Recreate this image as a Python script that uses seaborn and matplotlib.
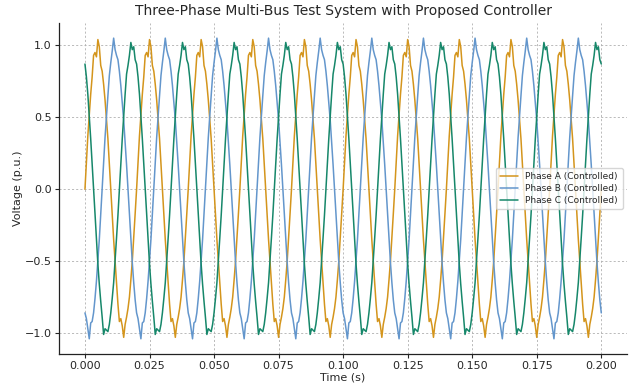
import numpy as np
import pandas as pd
import matplotlib
matplotlib.use("Agg")
import matplotlib.pyplot as plt
import seaborn as sns

period_s = 0.02
n_cycles = 10
phase_a_cycle = [0.00, 0.19, 0.37, 0.52, 0.66, 0.78, 0.93, 0.95, 0.92, 1.04, 0.99, 0.86,
                 0.82, 0.73, 0.62, 0.49, 0.35, 0.18, 0.00, -0.18, -0.35, -0.50, -0.65, -0.80,
                 -0.92, -0.90, -0.95, -1.03, -0.94, -0.89, -0.83, -0.75, -0.63, -0.50, -0.34, -0.17]
phase_b_cycle = [-0.86, -0.90, -0.97, -1.04, -0.93, -0.92, -0.86, -0.76, -0.64, -0.50, -0.35, -0.17,
                 0.00, 0.18, 0.36, 0.51, 0.65, 0.79, 0.88, 0.96, 1.05, 0.97, 0.93, 0.90,
                 0.82, 0.72, 0.60, 0.48, 0.33, 0.17, 0.00, -0.18, -0.35, -0.51, -0.65, -0.77]
phase_c_cycle = [0.87, 0.78, 0.66, 0.51, 0.35, 0.18, 0.00, -0.17, -0.35, -0.52, -0.66, -0.78,
                 -0.89, -1.01, -0.97, -0.98, -0.99, -0.94, -0.86, -0.76, -0.65, -0.50, -0.34, -0.18,
                 0.00, 0.18, 0.35, 0.51, 0.66, 0.80, 0.86, 0.93, 1.02, 0.97, 0.99, 0.90]
series_labels = ["Phase A (Controlled)", "Phase B (Controlled)", "Phase C (Controlled)"]
series_colors = ["#D4951C", "#6396CC", "#16876A"]
x_ticks = [0.000, 0.025, 0.050, 0.075, 0.100, 0.125, 0.150, 0.175, 0.200]
y_ticks = [-1.0, -0.5, 0.0, 0.5, 1.0]

# ---- build long-form table (repeat the read cycle over the record) ----
n_per = len(phase_a_cycle)
n_pts = n_per * n_cycles + 1
t = np.arange(n_pts) * period_s / n_per
frames = []
for lab, cyc in zip(series_labels, [phase_a_cycle, phase_b_cycle, phase_c_cycle]):
    v = np.array(cyc * n_cycles + [cyc[0]])
    frames.append(pd.DataFrame({"Time (s)": t, "Voltage (p.u.)": v, "Phase": lab}))
df = pd.concat(frames, ignore_index=True)

sns.set_style("ticks")
plt.rcParams["font.family"] = ["DejaVu Sans"]

fig = plt.figure(figsize=(6.36, 3.85), dpi=100)
ax = fig.add_axes([0.093, 0.081, 0.893, 0.859])

sns.lineplot(data=df, x="Time (s)", y="Voltage (p.u.)", hue="Phase",
             palette=dict(zip(series_labels, series_colors)), hue_order=series_labels,
             linewidth=1.1, ax=ax, sort=False, estimator=None)

ax.set_xticks(x_ticks)
ax.set_yticks(y_ticks)
ax.tick_params(labelsize=8, length=3, width=0.8, pad=2.5)
ax.set_xlabel("Time (s)", fontsize=8, labelpad=1)
ax.set_ylabel("Voltage (p.u.)", fontsize=8, labelpad=1)
ax.set_title("Three-Phase Multi-Bus Test System with Proposed Controller", fontsize=10, pad=6)
ax.grid(True, linestyle=(0, (2.5, 2.5)), color="#b0b0b0", linewidth=0.6)
for s in ["top", "right"]:
    ax.spines[s].set_visible(False)
for s in ["left", "bottom"]:
    ax.spines[s].set_color("#222222")
    ax.spines[s].set_linewidth(0.9)

leg = ax.legend(loc="center right", fontsize=6.5, frameon=True, handlelength=2.0,
                borderpad=0.5, labelspacing=0.3, bbox_to_anchor=(1.0, 0.5))
leg.get_frame().set_edgecolor("#cccccc")

fig.savefig("out.png", dpi=100)
